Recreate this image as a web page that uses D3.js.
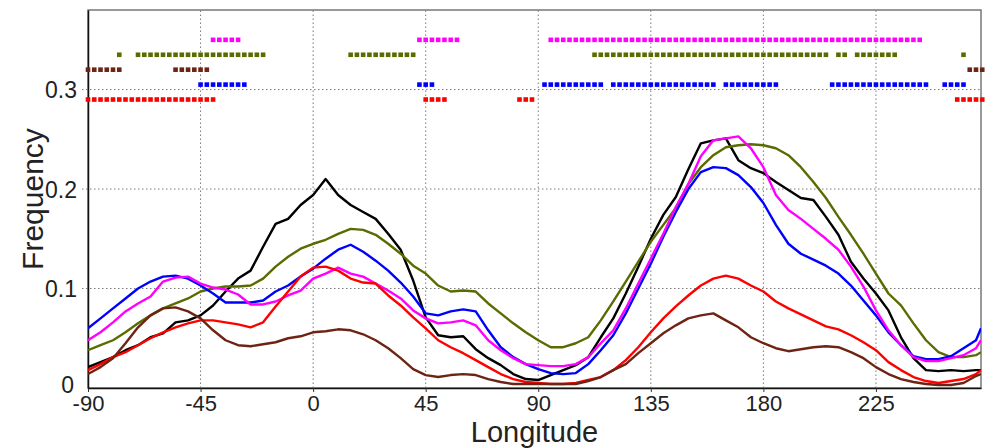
<!DOCTYPE html>
<html>
<head>
<meta charset="utf-8">
<script src="https://cdn.jsdelivr.net/npm/d3@7"></script>
<style>
  html, body { margin: 0; padding: 0; background: #fff; }
  svg { display: block; font-family: "Liberation Sans", Arial, sans-serif; }
</style>
</head>
<body>
<svg id="chart" width="986" height="448"></svg>
<script>
// Longitude sample points (degrees)
const lon = [-90,-85,-80,-75,-70,-65,-60,-55,-50,-45,-40,-35,-30,-25,-20,-15,-10,-5,0,5,10,15,20,25,30,35,40,45,50,55,60,65,70,75,80,85,90,95,100,105,110,115,120,125,130,135,140,145,150,155,160,165,170,175,180,185,190,195,200,205,210,215,220,225,230,235,240,245,250,255,260,265,267];

const blackVals = [0.021,0.026,0.031,0.038,0.043,0.051,0.055,0.066,0.068,0.073,0.083,0.097,0.110,0.118,0.142,0.165,0.170,0.184,0.194,0.210,0.194,0.184,0.177,0.170,0.155,0.139,0.108,0.071,0.053,0.051,0.052,0.039,0.030,0.023,0.014,0.009,0.008,0.013,0.018,0.023,0.031,0.051,0.070,0.095,0.122,0.150,0.174,0.192,0.220,0.246,0.249,0.251,0.229,0.221,0.216,0.207,0.199,0.191,0.189,0.172,0.154,0.127,0.110,0.095,0.078,0.051,0.030,0.018,0.017,0.018,0.017,0.018,0.018];

const oliveVals = [0.038,0.043,0.048,0.056,0.065,0.073,0.080,0.085,0.090,0.097,0.100,0.102,0.102,0.103,0.110,0.122,0.132,0.140,0.145,0.149,0.155,0.160,0.159,0.154,0.145,0.135,0.123,0.115,0.103,0.097,0.098,0.097,0.085,0.075,0.065,0.056,0.048,0.041,0.041,0.045,0.051,0.068,0.087,0.107,0.127,0.147,0.164,0.181,0.205,0.222,0.234,0.242,0.244,0.245,0.244,0.241,0.234,0.222,0.207,0.191,0.172,0.154,0.135,0.115,0.095,0.083,0.065,0.048,0.036,0.031,0.031,0.033,0.036];

const blueVals = [0.060,0.070,0.080,0.090,0.100,0.107,0.112,0.113,0.110,0.103,0.095,0.086,0.086,0.086,0.088,0.097,0.103,0.112,0.120,0.130,0.139,0.144,0.137,0.128,0.118,0.106,0.092,0.075,0.073,0.077,0.079,0.077,0.058,0.041,0.031,0.024,0.019,0.015,0.014,0.015,0.024,0.038,0.053,0.075,0.100,0.125,0.152,0.177,0.200,0.217,0.222,0.221,0.214,0.202,0.186,0.164,0.145,0.135,0.129,0.123,0.115,0.103,0.088,0.073,0.056,0.043,0.032,0.029,0.029,0.032,0.040,0.048,0.060];

const magentaVals = [0.048,0.056,0.066,0.077,0.085,0.092,0.107,0.111,0.112,0.105,0.101,0.099,0.094,0.084,0.084,0.087,0.093,0.098,0.110,0.115,0.121,0.115,0.112,0.105,0.098,0.090,0.078,0.070,0.065,0.066,0.068,0.063,0.048,0.038,0.030,0.024,0.023,0.022,0.022,0.024,0.031,0.045,0.058,0.080,0.105,0.130,0.155,0.182,0.205,0.233,0.249,0.251,0.253,0.241,0.222,0.194,0.179,0.170,0.160,0.150,0.139,0.122,0.102,0.078,0.058,0.043,0.031,0.027,0.027,0.030,0.033,0.040,0.048];

const redVals = [0.018,0.024,0.031,0.036,0.043,0.050,0.056,0.061,0.065,0.068,0.068,0.066,0.064,0.061,0.066,0.082,0.097,0.112,0.121,0.122,0.118,0.110,0.106,0.105,0.093,0.083,0.071,0.060,0.048,0.041,0.035,0.028,0.021,0.014,0.009,0.006,0.005,0.004,0.004,0.005,0.008,0.011,0.018,0.028,0.041,0.056,0.070,0.082,0.093,0.103,0.110,0.113,0.110,0.103,0.097,0.087,0.080,0.074,0.068,0.062,0.059,0.053,0.046,0.038,0.026,0.018,0.011,0.007,0.005,0.007,0.009,0.014,0.018];

const brownVals = [0.014,0.021,0.030,0.045,0.061,0.073,0.080,0.081,0.077,0.070,0.058,0.048,0.043,0.042,0.044,0.046,0.050,0.052,0.056,0.057,0.059,0.058,0.054,0.048,0.040,0.030,0.019,0.013,0.011,0.013,0.014,0.013,0.009,0.006,0.004,0.004,0.004,0.004,0.004,0.004,0.007,0.011,0.018,0.024,0.035,0.045,0.055,0.063,0.070,0.073,0.075,0.068,0.061,0.051,0.045,0.040,0.037,0.039,0.041,0.042,0.041,0.036,0.030,0.021,0.014,0.009,0.006,0.004,0.003,0.003,0.005,0.012,0.014];

// Longitude spans [from, to] flagged for each series, one marker per 2.5 degrees
const redSpans = [[-90,-40],[45,52.5],[82.5,87.5],[257.5,267.5]];
const blueSpans = [[-45,-27.5],[42.5,47.5],[92.5,115],[120,160],[165,185],[207.5,245],[252.5,260]];
const brownSpans = [[-90,-77.5],[-55,-42.5],[262.5,267.5]];
const oliveSpans = [[-77.5,-77.5],[-70,-20],[15,40],[112.5,205],[210,212.5],[217.5,232.5],[260,260]];
const magentaSpans = [[-40,-30],[42.5,57.5],[95,242.5]];

// Marker row heights (frequency units)
const markerLevels = { red: 0.29, blue: 0.305, brown: 0.32, olive: 0.335, magenta: 0.35 };

const xTicks = [-90,-45,0,45,90,135,180,225];
const yTicks = [0, 0.1, 0.2, 0.3];

const colors = {
  black: "#000000", olive: "#5a6b00", blue: "#0000ff",
  magenta: "#ff00ff", red: "#ff0000", brown: "#6e2414"
};

const series = [
  { key: "black", values: blackVals },
  { key: "olive", values: oliveVals },
  { key: "blue", values: blueVals },
  { key: "magenta", values: magentaVals },
  { key: "red", values: redVals },
  { key: "brown", values: brownVals }
];

const markers = [
  { key: "red", spans: redSpans },
  { key: "blue", spans: blueSpans },
  { key: "brown", spans: brownSpans },
  { key: "olive", spans: oliveSpans },
  { key: "magenta", spans: magentaSpans }
];

const margin = { left: 88, right: 5, top: 10, bottom: 60 };
const W = 986, H = 448;

const x = d3.scaleLinear().domain([-90, 267]).range([margin.left, W - margin.right]);
const y = d3.scaleLinear().domain([0, 0.38]).range([H - margin.bottom, margin.top]);

const svg = d3.select("#chart");

svg.append("defs").append("clipPath").attr("id", "plotclip")
  .append("rect")
  .attr("x", x.range()[0]).attr("y", y.range()[1])
  .attr("width", x.range()[1] - x.range()[0])
  .attr("height", y.range()[0] - y.range()[1]);

// Dotted grid
const grid = svg.append("g").attr("stroke", "#7a7a7a").attr("stroke-width", 1)
  .attr("stroke-dasharray", "1.5,2.5");
grid.selectAll("line.vx").data(xTicks.filter(d => d > -90)).join("line")
  .attr("x1", d => x(d)).attr("x2", d => x(d))
  .attr("y1", y.range()[0]).attr("y2", y.range()[1]);
grid.selectAll("line.hy").data(yTicks.filter(d => d > 0)).join("line")
  .attr("x1", x.range()[0] - 6).attr("x2", x.range()[1])
  .attr("y1", d => y(d)).attr("y2", d => y(d));

// Frame: light top/right, dark left/bottom
svg.append("rect")
  .attr("x", x.range()[0]).attr("y", y.range()[1])
  .attr("width", x.range()[1] - x.range()[0])
  .attr("height", y.range()[0] - y.range()[1])
  .attr("fill", "none").attr("stroke", "#777").attr("stroke-width", 1.5);

const xAxis = d3.axisBottom(x).tickValues(xTicks).tickSize(4).tickSizeOuter(0)
  .tickFormat(d3.format("d"));
const gx = svg.append("g").attr("transform", `translate(0,${y.range()[0]})`).call(xAxis);
gx.select(".domain").attr("stroke", "#111").attr("stroke-width", 1.5);
gx.selectAll(".tick line").attr("stroke", "#333");
gx.selectAll(".tick text")
  .attr("y", 7).attr("dy", "0.71em")
  .attr("font-size", 22).attr("fill", "#222")
  .attr("font-family", "Liberation Sans, Arial, sans-serif")
  .text(d => d < 0 ? "-" + Math.abs(d) : d);

const yAxis = d3.axisLeft(y).tickValues(yTicks).tickSize(0).tickSizeOuter(0)
  .tickFormat(d => d === 0 ? "0" : d3.format(".1f")(d));
const gy = svg.append("g").attr("transform", `translate(${x.range()[0]},0)`).call(yAxis);
gy.select(".domain").attr("stroke", "#111").attr("stroke-width", 1.5);
gy.selectAll(".tick text")
  .attr("x", d => d === 0 ? -14 : -11).attr("dy", d => d === 0 ? "0.2em" : "0.36em")
  .attr("font-size", 23).attr("fill", "#222")
  .attr("font-family", "Liberation Sans, Arial, sans-serif");

// Curves
const line = d3.line().x((d, i) => x(lon[i])).y(d => y(d));
svg.append("g").attr("clip-path", "url(#plotclip)")
  .selectAll("path").data(series).join("path")
  .attr("d", s => line(s.values))
  .attr("fill", "none")
  .attr("stroke", s => colors[s.key])
  .attr("stroke-width", 2.4)
  .attr("stroke-linejoin", "round");

// Flag markers: small squares along each flagged span
const sq = 4.6;
const mg = svg.append("g");
markers.forEach(m => {
  const pts = [];
  m.spans.forEach(([a, b]) => {
    d3.range(a, b + 0.01, 2.5).forEach(v => pts.push(v));
  });
  mg.append("g").selectAll("rect").data(pts).join("rect")
    .attr("x", d => x(d) - sq / 2)
    .attr("y", y(markerLevels[m.key]) - sq / 2)
    .attr("width", sq).attr("height", sq)
    .attr("fill", colors[m.key]);
});

// Axis titles
svg.append("text")
  .attr("x", (x.range()[0] + x.range()[1]) / 2)
  .attr("y", 442)
  .attr("text-anchor", "middle")
  .attr("font-size", 29).attr("fill", "#222")
  .text("Longitude");

svg.append("text")
  .attr("transform", `translate(43,${(y.range()[0] + y.range()[1]) / 2}) rotate(-90)`)
  .attr("text-anchor", "middle")
  .attr("font-size", 30).attr("fill", "#222")
  .text("Frequency");
</script>
</body>
</html>
